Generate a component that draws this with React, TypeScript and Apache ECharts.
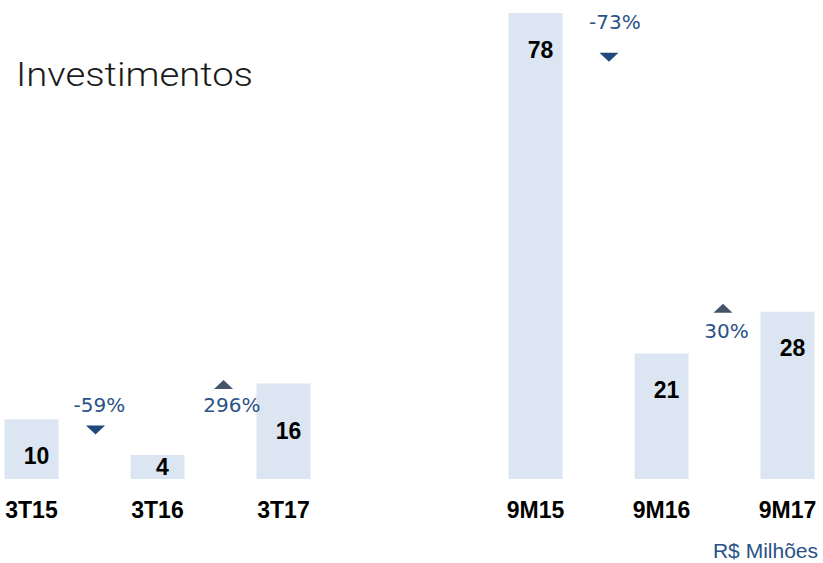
import React, { useEffect, useRef } from "react";
import * as echarts from "echarts";

const categories = ["3T15", "3T16", "3T17", "", "9M15", "9M16", "9M17"];
const values: (number | string)[] = [10, 4, 16, "-", 78, 21, 28];
// label placement per bar: small bars centred, others near top
const centeredLabel = [false, true, true, false, false, false, false];

const changeLabels = ["-59%", "296%", "-73%", "30%"];
const changeUp = [false, true, false, true];
const arrowX = [0.508, 1.524, 4.583, 5.488];
const arrowY = [8.2, 15.8, 70.6, 28.6];
const labelX = [0.538, 1.591, 4.63, 5.516];
const labelY = [12.4, 12.4, 76.5, 24.8];

export default function App() {
  const ref = useRef<HTMLDivElement>(null);
  useEffect(() => {
    if (!ref.current) return;
    const chart = echarts.init(ref.current, undefined, { renderer: "svg" });
    const barData = values.map((v, i) => ({
      value: v,
      label: centeredLabel[i]
        ? { position: "inside" }
        : { position: "insideTop", distance: 25 },
    }));
    chart.setOption({
      animation: false,
      backgroundColor: "#ffffff",
      grid: { left: 31.5, right: 35.5, top: 13, bottom: 84 },
      xAxis: [
        {
          type: "category",
          data: categories,
          boundaryGap: false,
          axisLine: { show: false },
          axisTick: { show: false },
          splitLine: { show: false },
          axisLabel: {
            margin: 19,
            fontFamily: "Liberation Sans, Arial, sans-serif",
            fontWeight: "bold",
            fontSize: 23,
            color: "#000000",
            interval: 0,
          },
        },
        {
          type: "value",
          min: 0,
          max: 6,
          show: false,
        },
      ],
      yAxis: {
        type: "value",
        min: 0,
        max: 78,
        show: false,
      },
      series: [
        {
          type: "bar",
          data: barData,
          barWidth: 54,
          itemStyle: { color: "#dce6f2" },
          label: {
            show: true,
            offset: [5, 0],
            fontFamily: "Liberation Sans, Arial, sans-serif",
            fontWeight: "bold",
            fontSize: 23,
            color: "#000000",
          },
        },
        {
          type: "scatter",
          xAxisIndex: 1,
          symbol: "triangle",
          symbolSize: [19, 9],
          data: arrowX.map((x, i) => ({
            value: [x, arrowY[i]],
            symbolRotate: changeUp[i] ? 0 : 180,
            itemStyle: { color: changeUp[i] ? "#44546a" : "#1f497d", opacity: 1 },
          })),
          label: { show: false },
        },
        {
          type: "scatter",
          xAxisIndex: 1,
          symbol: "circle",
          symbolSize: 1,
          itemStyle: { color: "rgba(0,0,0,0)", opacity: 1 },
          data: labelX.map((x, i) => ({ value: [x, labelY[i]], name: changeLabels[i] })),
          label: {
            show: true,
            position: "inside",
            formatter: (p: any) => p.name,
            fontFamily: "DejaVu Sans, sans-serif",
            fontSize: 20,
            color: "#2a5288",
            opacity: 1,
          },
        },
      ],
      graphic: [
        {
          type: "text",
          x: 16,
          y: 58,
          scaleX: 1.16,
          style: {
            text: "Investimentos",
            font: "300 33px Roboto, sans-serif",
            fill: "#1a1a1a",
          },
        },
        {
          type: "text",
          right: 5,
          top: 540,
          style: {
            text: "R$ Milhões",
            font: "21px 'Liberation Sans', Arial, sans-serif",
            fill: "#2a5288",
          },
        },
      ],
    });
    return () => chart.dispose();
  }, []);
  return (
    <div
      ref={ref}
      style={{ position: "fixed", left: 0, top: 0, width: 823, height: 563 }}
    />
  );
}
